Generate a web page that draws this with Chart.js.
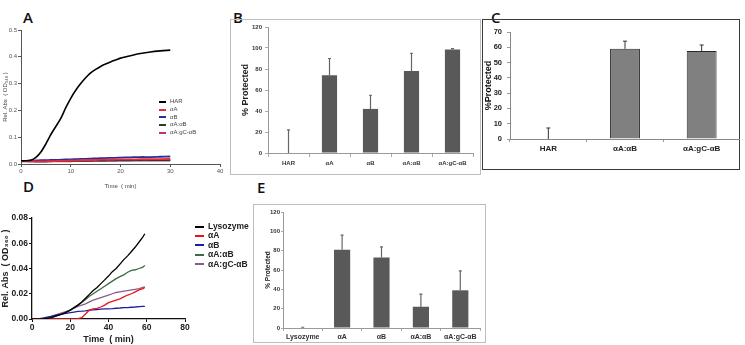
<!DOCTYPE html>
<html>
<head>
<meta charset="utf-8">
<script src="https://cdn.jsdelivr.net/npm/chart.js@4.4.0/dist/chart.umd.min.js"></script>
<style>
body { margin: 0; width: 745px; height: 345px; background: #fff; position: relative; overflow: hidden; font-family: "Liberation Sans", Arial, sans-serif; }
canvas, .box, .letter, .legend { position: absolute; }
.letter { font-family: "Open Sans", sans-serif; font-weight: 600; font-size: 15px; line-height: 15px; color: #111; }
.legend div { position: absolute; white-space: nowrap; }
.legend span { position: absolute; top: 50%; height: 2px; margin-top: -1px; }
</style>
</head>
<body>
<div class="letter" style="left:23px;top:10px">A</div>
<div class="letter" style="left:233px;top:10px">B</div>
<div class="letter" style="left:491px;top:10px">C</div>
<div class="letter" style="left:23px;top:179px">D</div>
<div class="letter" style="left:257px;top:180px">E</div>

<div class="box" style="left:230px;top:19px;width:249px;height:154px;border:1.5px solid #bdbdbd"></div>
<div class="box" style="left:482px;top:19px;width:256px;height:149px;border:1.5px solid #3a3a3a"></div>
<div class="box" style="left:253px;top:204px;width:231px;height:137px;border:1.5px solid #bdbdbd"></div>

<canvas id="chartA" width="226" height="168" style="left:0px;top:22px"></canvas>
<canvas id="chartB" width="248" height="154" style="left:232px;top:20px"></canvas>
<canvas id="chartC" width="257" height="148" style="left:483px;top:21px"></canvas>
<canvas id="chartD" width="192" height="135" style="left:0px;top:210px"></canvas>
<canvas id="chartE" width="229" height="136" style="left:255px;top:206px"></canvas>

<div class="legend" id="legendA" style="left:159px;top:98px"></div>
<div class="legend" id="legendD" style="left:195px;top:222px"></div>

<script>
// ---- panel A: HAR aggregation (time in min) ----
const aTime = [0,1,2,3,4,5,6,7,8,9,10,11,12,13,14,15,16,17,18,19,20,22,24,26,28,30];
const aNames = ['HAR', 'αA', 'αB', 'αA:αB', 'αA:gC-αB'];
const aHAR   = [0.012,0.012,0.014,0.025,0.045,0.075,0.11,0.14,0.17,0.21,0.245,0.275,0.30,0.322,0.34,0.353,0.364,0.373,0.381,0.388,0.395,0.404,0.412,0.418,0.422,0.425];
const aAlphaA = [0.012,0.011,0.011,0.010,0.010,0.010,0.011,0.011,0.012,0.012,0.013,0.013,0.014,0.014,0.015,0.015,0.016,0.016,0.016,0.017,0.017,0.017,0.018,0.018,0.018,0.019];
const aAlphaB = [0.012,0.012,0.013,0.013,0.014,0.014,0.015,0.015,0.016,0.017,0.017,0.018,0.019,0.019,0.020,0.021,0.022,0.022,0.023,0.023,0.024,0.025,0.026,0.026,0.027,0.028];
const aAB    = [0.010,0.010,0.010,0.010,0.010,0.010,0.011,0.011,0.011,0.011,0.012,0.012,0.012,0.012,0.013,0.013,0.013,0.013,0.014,0.014,0.014,0.014,0.015,0.015,0.015,0.015];
const aGC    = [0.011,0.011,0.010,0.009,0.009,0.009,0.009,0.010,0.010,0.010,0.010,0.011,0.011,0.011,0.011,0.012,0.012,0.012,0.012,0.012,0.013,0.013,0.013,0.013,0.013,0.013];
const aColors = ['#000000', '#e0303c', '#2b2b9a', '#2f3a30', '#c2307c'];
const aXTicks = [0, 10, 20, 30, 40];

// ---- panel B: % protected, HAR ----
const bCats = ['HAR', 'αA', 'αB', 'αA:αB', 'αA:gC-αB'];
const bVals = [0, 74, 42, 78, 98.5];
const bErrs = [22, 16, 13, 17, 1];

// ---- panel C ----
const cCats = ['HAR', 'αA:αB', 'αA:gC-αB'];
const cVals = [0, 59, 57.5];
const cErrs = [7.2, 5, 4];

// ---- panel D: lysozyme aggregation ----
const dTime = [0,2,4,6,8,10,12,14,16,18,20,22,24,26,28,30,32,34,36,38,40,42,44,46,48,50,52,54,56,58,59];
const dNames = ['Lysozyme', 'αA', 'αB', 'αA:αB', 'αA:gC-αB'];
const dLyso  = [0,0,0,0,0.0005,0.001,0.002,0.003,0.004,0.0055,0.007,0.009,0.011,0.0135,0.0165,0.0195,0.0225,0.025,0.028,0.031,0.034,0.0375,0.040,0.0435,0.047,0.050,0.0535,0.057,0.061,0.065,0.0675];
const dAlphaA = [0,0,0,0,0,0,0,0,0,0,0,0,0.0003,0.001,0.004,0.007,0.008,0.0085,0.0095,0.011,0.013,0.014,0.015,0.016,0.0175,0.019,0.020,0.0215,0.023,0.024,0.025];
const dAlphaB = [0,0,0.0003,0.0008,0.0015,0.002,0.0028,0.0035,0.004,0.0045,0.005,0.0055,0.006,0.0062,0.0065,0.007,0.0072,0.0075,0.0078,0.008,0.008,0.0082,0.0085,0.0087,0.009,0.009,0.0093,0.0095,0.0098,0.010,0.010];
const dAB    = [0,0,0,0,0.0005,0.001,0.002,0.003,0.004,0.0055,0.007,0.009,0.011,0.013,0.0155,0.018,0.020,0.022,0.024,0.026,0.028,0.030,0.032,0.0335,0.035,0.037,0.0385,0.039,0.040,0.041,0.0425];
const dGC    = [0,0,0,0.0003,0.001,0.002,0.003,0.004,0.005,0.006,0.007,0.0085,0.010,0.011,0.012,0.0135,0.015,0.016,0.017,0.018,0.019,0.020,0.021,0.0215,0.022,0.0225,0.023,0.0235,0.024,0.025,0.0255];
const dColors = ['#000000', '#e8141c', '#1f1f99', '#3d6b47', '#8e5a8e'];

// ---- panel E: % protected, lysozyme ----
const eCats = ['Lysozyme', 'αA', 'αB', 'αA:αB', 'αA:gC-αB'];
const eVals = [0.5, 81, 73, 22, 39];
const eErrs = [0.3, 15, 11, 13, 20];

Chart.defaults.font.family = '"Liberation Sans", Arial, sans-serif';
Chart.defaults.animation = false;
Chart.defaults.responsive = false;

const errorBars = {
    id: 'errorBars',
    afterDatasetsDraw(chart, args, opts) {
        const meta = chart.getDatasetMeta(0);
        const ys = chart.scales.y;
        const vals = chart.data.datasets[0].data;
        const ctx = chart.ctx;
        ctx.save();
        ctx.strokeStyle = opts.color;
        ctx.lineWidth = opts.width;
        meta.data.forEach((bar, i) => {
            const base = ys.getPixelForValue(vals[i]);
            const top = ys.getPixelForValue(vals[i] + opts.errors[i]);
            ctx.beginPath();
            ctx.moveTo(bar.x, base);
            ctx.lineTo(bar.x, top);
            ctx.moveTo(bar.x - opts.cap, top);
            ctx.lineTo(bar.x + opts.cap, top);
            ctx.stroke();
        });
        ctx.restore();
    }
};

function fixW(w) { return s => { s.width = w; }; }
function fixH(h) { return s => { s.height = h; }; }
function pts(xs, ys) { return xs.map((x, i) => ({ x: x, y: ys[i] })); }

function buildLegend(id, names, colors, rowH, fontSize, lineW, weight, textColor) {
    const el = document.getElementById(id);
    names.forEach((n, i) => {
        const row = document.createElement('div');
        row.style.top = (i * rowH) + 'px';
        row.style.left = '0px';
        row.style.height = rowH + 'px';
        row.style.lineHeight = rowH + 'px';
        row.style.fontSize = fontSize + 'px';
        row.style.fontWeight = weight;
        row.style.color = textColor;
        row.style.paddingLeft = (lineW + 4) + 'px';
        const sw = document.createElement('span');
        sw.style.left = '0px';
        sw.style.width = lineW + 'px';
        sw.style.background = colors[i];
        row.appendChild(sw);
        row.appendChild(document.createTextNode(n));
        el.appendChild(row);
    });
}

// Panel A
new Chart(document.getElementById('chartA'), {
    type: 'line',
    data: {
        datasets: [aHAR, aAlphaA, aAlphaB, aAB, aGC].map((s, i) => ({
            label: aNames[i],
            data: pts(aTime, s),
            borderColor: aColors[i],
            borderWidth: i === 0 ? 1.6 : 1.8,
            pointRadius: 0,
            tension: 0.3,
            order: i === 0 ? 0 : 1
        }))
    },
    options: {
        layout: { padding: { top: 8, right: 6, left: 0, bottom: 0 } },
        plugins: { legend: { display: false }, tooltip: { enabled: false } },
        scales: {
            x: {
                type: 'linear', min: 0, max: 40,
                afterFit: fixH(26),
                afterBuildTicks: s => { s.ticks = aXTicks.map(v => ({ value: v })); },
                grid: { drawOnChartArea: false, tickLength: 3, color: '#555' },
                border: { color: '#555', width: 1 },
                ticks: { font: { size: 6 }, color: '#555', padding: 1, maxRotation: 0 },
                title: { display: true, text: 'Time  ( min)', font: { size: 6 }, color: '#444', padding: { top: 8, bottom: 0 } }
            },
            y: {
                min: 0, max: 0.5,
                afterFit: fixW(21),
                grid: { drawOnChartArea: false, tickLength: 3, color: '#555' },
                border: { color: '#555', width: 1 },
                ticks: { stepSize: 0.1, font: { size: 6 }, color: '#555', padding: 1, callback: v => v.toFixed(1) },
                title: { display: true, text: 'Rel. Abs  ( OD₃₄₀ )', font: { size: 6 }, color: '#444', padding: { top: 1.4, bottom: 0 } }
            }
        }
    }
});
buildLegend('legendA', aNames, aColors, 7.8, 6, 7, 'normal', '#444');

// Panel B
new Chart(document.getElementById('chartB'), {
    type: 'bar',
    data: { labels: bCats, datasets: [{ data: bVals, backgroundColor: '#595959', barPercentage: 0.37, categoryPercentage: 1 }] },
    plugins: [errorBars],
    options: {
        layout: { padding: { top: 7, right: 7, left: 0, bottom: 0 } },
        plugins: {
            legend: { display: false }, tooltip: { enabled: false },
            errorBars: { errors: bErrs, color: '#666', width: 1.2, cap: 1.5 }
        },
        scales: {
            x: {
                afterFit: fixH(21),
                grid: { drawOnChartArea: false, tickLength: 4, color: '#aaa' },
                border: { color: '#999', width: 1 },
                ticks: { font: { size: 6, weight: 'bold' }, color: '#333', padding: 3, maxRotation: 0 }
            },
            y: {
                min: 0, max: 120,
                afterFit: fixW(36),
                grid: { drawOnChartArea: false, tickLength: 3, color: '#aaa' },
                border: { color: '#999', width: 1 },
                ticks: { stepSize: 20, font: { size: 6, weight: 'bold' }, color: '#333', padding: 3 },
                title: { display: true, text: '% Protected', font: { size: 9, weight: 'bold' }, color: '#222', padding: { top: 8, bottom: 0 } }
            }
        }
    }
});

// Panel C
new Chart(document.getElementById('chartC'), {
    type: 'bar',
    data: { labels: cCats, datasets: [{ data: cVals, backgroundColor: '#808080', borderColor: '#2a2a2a', borderWidth: 1, barPercentage: 0.39, categoryPercentage: 1 }] },
    plugins: [errorBars],
    options: {
        layout: { padding: { top: 11, right: 0, left: 0, bottom: 0 } },
        plugins: {
            legend: { display: false }, tooltip: { enabled: false },
            errorBars: { errors: cErrs, color: '#333', width: 1, cap: 2 }
        },
        scales: {
            x: {
                afterFit: fixH(30),
                grid: { drawOnChartArea: false, tickLength: 3, color: '#999' },
                border: { color: '#888', width: 1 },
                ticks: { font: { size: 8, weight: 'bold' }, color: '#222', padding: 2, maxRotation: 0 }
            },
            y: {
                min: 0, max: 70,
                afterFit: fixW(27),
                grid: { drawOnChartArea: false, tickLength: 3, color: '#999' },
                border: { color: '#888', width: 1 },
                ticks: { stepSize: 10, font: { size: 7.5, weight: 'bold' }, color: '#222', padding: 5 },
                title: { display: true, text: '%Protected', font: { size: 9, weight: 'bold', lineHeight: 1 }, color: '#111', padding: { top: 1, bottom: 0 } }
            }
        }
    }
});

// Panel D
new Chart(document.getElementById('chartD'), {
    type: 'line',
    data: {
        datasets: [dLyso, dAlphaA, dAlphaB, dAB, dGC].map((s, i) => ({
            label: dNames[i],
            data: pts(dTime, s),
            borderColor: dColors[i],
            borderWidth: 1.3,
            pointRadius: 0
        }))
    },
    options: {
        layout: { padding: { top: 8, right: 7, left: 0, bottom: 0 } },
        plugins: { legend: { display: false }, tooltip: { enabled: false } },
        scales: {
            x: {
                type: 'linear', min: 0, max: 80,
                afterFit: fixH(26),
                grid: { drawOnChartArea: false, tickLength: 3, color: '#111' },
                border: { color: '#111', width: 1.3 },
                ticks: { stepSize: 20, font: { size: 8.5, weight: 'bold' }, color: '#222', padding: 1, maxRotation: 0 },
                title: { display: true, text: 'Time  ( min)', font: { size: 9, weight: 'bold' }, color: '#222', padding: { top: 0, bottom: 0 } }
            },
            y: {
                min: 0, max: 0.08,
                afterFit: fixW(32),
                grid: { drawOnChartArea: false, tickLength: 3, color: '#111' },
                border: { color: '#111', width: 1.3 },
                ticks: { stepSize: 0.02, font: { size: 8.5, weight: 'bold' }, color: '#222', padding: 1, callback: v => v.toFixed(2) },
                title: { display: true, text: 'Rel. Abs  ( OD₃₆₀ )', font: { size: 9, weight: 'bold' }, color: '#222', padding: { top: 0, bottom: 0 } }
            }
        }
    }
});
buildLegend('legendD', dNames, dColors, 9.4, 8.5, 9, 'bold', '#222');

// Panel E
new Chart(document.getElementById('chartE'), {
    type: 'bar',
    data: { labels: eCats, datasets: [{ data: eVals, backgroundColor: '#595959', barPercentage: 0.41, categoryPercentage: 1 }] },
    plugins: [errorBars],
    options: {
        layout: { padding: { top: 6, right: 4, left: 0, bottom: 0 } },
        plugins: {
            legend: { display: false }, tooltip: { enabled: false },
            errorBars: { errors: eErrs, color: '#666', width: 1.2, cap: 1.5 }
        },
        scales: {
            x: {
                afterFit: fixH(14),
                grid: { drawOnChartArea: false, tickLength: 3, color: '#aaa' },
                border: { color: '#999', width: 1 },
                ticks: { font: { size: 7, weight: 'bold' }, color: '#333', padding: 2, maxRotation: 0 }
            },
            y: {
                min: 0, max: 120,
                afterFit: fixW(28),
                grid: { drawOnChartArea: false, tickLength: 2, color: '#aaa' },
                border: { color: '#999', width: 1 },
                ticks: { stepSize: 20, font: { size: 6, weight: 'bold' }, color: '#333', padding: 1 },
                title: { display: true, text: '% Protected', font: { size: 6.5, weight: 'bold', lineHeight: 1 }, color: '#222', padding: { top: 10, bottom: 0 } }
            }
        }
    }
});
</script>
</body>
</html>
